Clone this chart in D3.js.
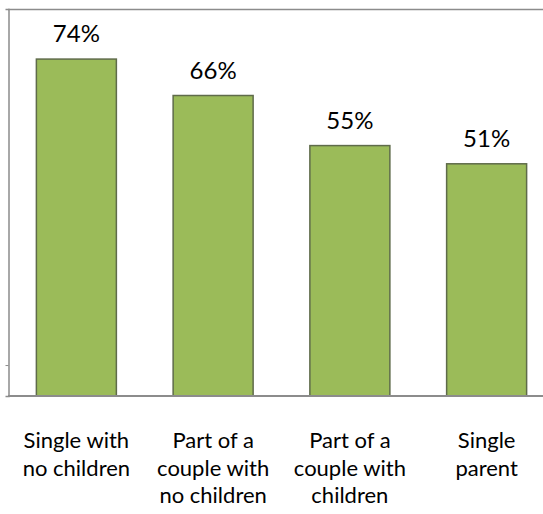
<!DOCTYPE html>
<html>
<head>
<meta charset="utf-8">
<script src="https://cdn.jsdelivr.net/npm/d3@7/dist/d3.min.js"></script>
<style>
  html, body { margin: 0; padding: 0; background: #fff; }
  svg { display: block; }
  text { font-family: Lato, "Open Sans", sans-serif; fill: #000; }
</style>
</head>
<body>
<svg id="chart" width="543" height="514"></svg>
<script>
const categories = [
  ["Single with", "no children"],
  ["Part of a", "couple with", "no children"],
  ["Part of a", "couple with", "children"],
  ["Single", "parent"]
];
const values = [74, 66, 55, 51];
const valueLabels = ["74%", "66%", "55%", "51%"];
const yMax = 85;
const yTicks = [6.8];

const svg = d3.select("#chart");
const plot = { left: 8, right: 555, top: 9, bottom: 396 };

const x = d3.scaleBand()
  .domain(d3.range(categories.length))
  .range([plot.left, plot.right])
  .paddingInner(0.415)
  .paddingOuter(0.2075);

const y = d3.scaleLinear().domain([0, yMax]).range([plot.bottom, plot.top]);

// top frame line
svg.append("line")
  .attr("x1", plot.left).attr("x2", 543)
  .attr("y1", y(yMax) + 0.5).attr("y2", y(yMax) + 0.5)
  .attr("stroke", "#8c8c8c").attr("stroke-width", 1.5);

// y axis
const yAxis = d3.axisLeft(y).tickValues(yTicks).tickSize(3).tickFormat("");
const yg = svg.append("g").attr("transform", `translate(${plot.left + 0.5},0)`).call(yAxis);
yg.select(".domain").attr("stroke", "#8c8c8c").attr("stroke-width", 1.5);
yg.selectAll(".tick line").attr("stroke", "#8c8c8c");

// bars
svg.append("g").selectAll("rect")
  .data(values)
  .join("rect")
  .attr("x", (d, i) => x(i))
  .attr("y", d => y(d))
  .attr("width", x.bandwidth())
  .attr("height", d => y(0) - y(d))
  .attr("fill", "#9BBB59")
  .attr("stroke", "#5f6b4a")
  .attr("stroke-width", 1.5);

// x axis baseline
svg.append("line")
  .attr("x1", plot.left).attr("x2", 543)
  .attr("y1", y(0)).attr("y2", y(0))
  .attr("stroke", "#8c8c8c").attr("stroke-width", 2);

// value labels
svg.append("g").selectAll("text")
  .data(values)
  .join("text")
  .attr("x", (d, i) => x(i) + x.bandwidth() / 2)
  .attr("y", d => y(d) - 17)
  .attr("text-anchor", "middle")
  .attr("font-size", 24)
  .text((d, i) => valueLabels[i]);

// category labels
const cl = svg.append("g").selectAll("text")
  .data(categories)
  .join("text")
  .attr("x", (d, i) => x(i) + x.bandwidth() / 2)
  .attr("y", 448)
  .attr("text-anchor", "middle")
  .attr("font-size", 22);
cl.each(function(lines, i) {
  const t = d3.select(this);
  lines.forEach((ln, j) => {
    t.append("tspan")
      .attr("x", x(i) + x.bandwidth() / 2)
      .attr("dy", j === 0 ? 0 : 27.5)
      .text(ln);
  });
});
</script>
</body>
</html>
